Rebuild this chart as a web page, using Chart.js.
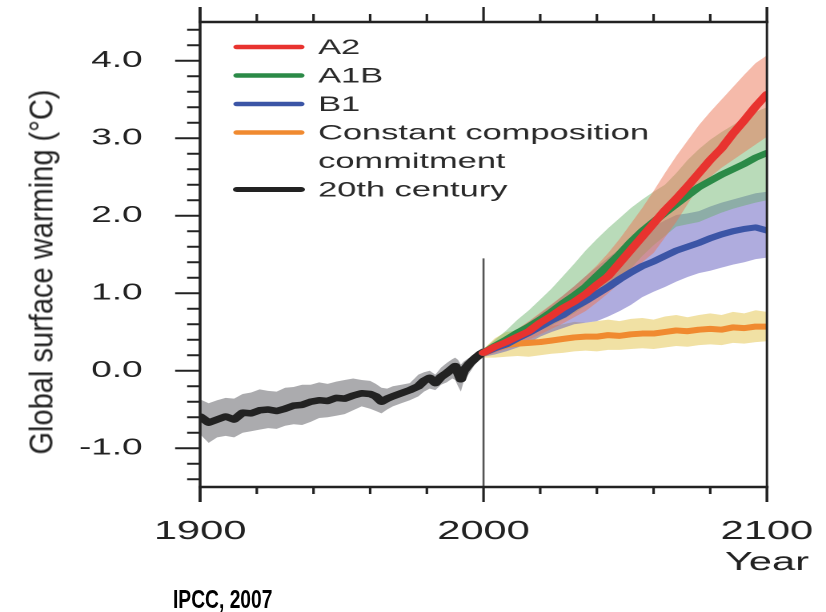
<!DOCTYPE html>
<html>
<head>
<meta charset="utf-8">
<script src="https://cdn.jsdelivr.net/npm/chart.js@4.4.1/dist/chart.umd.min.js"></script>
<style>
html,body{margin:0;padding:0;background:#fff;}
#wrap{position:relative;width:826px;height:612px;overflow:hidden;background:#fff;}
#ytitle{position:absolute;left:41px;top:272px;transform:translate(-50%,-50%) rotate(-90deg) scaleX(0.88);white-space:nowrap;font-family:'Liberation Sans',Arial,sans-serif;font-size:33px;line-height:1;color:#222;}
#credit{position:absolute;left:173px;top:586px;transform:scaleX(0.74);transform-origin:0 50%;font-family:'Liberation Sans',Arial,sans-serif;font-weight:bold;font-size:26px;line-height:26px;color:#000;white-space:nowrap;}
</style>
</head>
<body>
<div id="wrap">
<canvas id="c" width="516" height="612" style="width:826px;height:612px;"></canvas>
<div id="ytitle">Global surface warming (°C)</div>
<div id="credit">IPCC, 2007</div>
</div>
<script>
// ---------- DATA ----------
const histYears = [1900,1903,1906,1909,1912,1915,1918,1921,1924,1927,1930,1933,1936,1939,1942,1945,1948,1951,1954,1957,1960,1962,1964,1966,1968,1971,1974,1977,1979,1981,1983,1985,1987,1989,1990,1991,1992,1993,1995,1997,1999,2000];
const hist20th = [-0.59,-0.67,-0.63,-0.59,-0.63,-0.54,-0.55,-0.51,-0.50,-0.52,-0.49,-0.45,-0.44,-0.40,-0.38,-0.39,-0.35,-0.36,-0.32,-0.29,-0.30,-0.33,-0.40,-0.36,-0.33,-0.29,-0.25,-0.20,-0.13,-0.09,-0.16,-0.08,-0.03,0.03,0.06,-0.02,-0.11,0.00,0.09,0.16,0.22,0.24];
const hist20thHigh = [-0.37,-0.42,-0.38,-0.35,-0.36,-0.30,-0.28,-0.24,-0.26,-0.27,-0.22,-0.21,-0.18,-0.18,-0.15,-0.17,-0.14,-0.12,-0.10,-0.12,-0.13,-0.17,-0.22,-0.23,-0.20,-0.18,-0.16,-0.05,-0.02,0.00,-0.05,0.04,0.10,0.15,0.17,0.14,0.08,0.12,0.17,0.22,0.28,0.30];
const hist20thLow = [-0.82,-0.93,-0.86,-0.84,-0.86,-0.80,-0.78,-0.76,-0.74,-0.75,-0.71,-0.69,-0.70,-0.66,-0.61,-0.60,-0.58,-0.56,-0.51,-0.46,-0.49,-0.52,-0.55,-0.50,-0.46,-0.42,-0.38,-0.33,-0.27,-0.23,-0.25,-0.18,-0.15,-0.10,-0.12,-0.20,-0.27,-0.14,-0.03,0.08,0.15,0.17];

const projYears = [2000,2004,2008,2012,2016,2020,2024,2028,2032,2036,2040,2044,2048,2052,2056,2060,2064,2068,2072,2076,2080,2084,2088,2092,2096,2100];

const a2 = [0.23,0.31,0.37,0.44,0.51,0.62,0.71,0.81,0.89,0.99,1.11,1.22,1.39,1.56,1.73,1.90,2.07,2.22,2.38,2.55,2.72,2.87,3.06,3.23,3.41,3.57];
const a2High = [0.28,0.36,0.45,0.54,0.64,0.75,0.86,0.97,1.09,1.22,1.36,1.52,1.70,1.90,2.10,2.32,2.55,2.77,2.97,3.17,3.34,3.50,3.66,3.82,3.97,4.07];
const a2Low = [0.18,0.23,0.28,0.34,0.40,0.47,0.54,0.61,0.69,0.77,0.88,1.00,1.13,1.28,1.40,1.52,1.72,1.92,2.15,2.38,2.50,2.62,2.72,2.82,2.92,3.02];

const a1b = [0.23,0.32,0.40,0.49,0.57,0.66,0.76,0.87,0.97,1.08,1.22,1.36,1.50,1.66,1.80,1.92,2.04,2.15,2.26,2.37,2.45,2.53,2.60,2.67,2.75,2.81];
const a1bHigh = [0.28,0.40,0.52,0.66,0.78,0.92,1.06,1.22,1.38,1.55,1.70,1.84,1.97,2.10,2.21,2.31,2.40,2.55,2.72,2.86,2.98,3.08,3.17,3.26,3.34,3.40];
const a1bLow = [0.18,0.24,0.31,0.38,0.45,0.52,0.58,0.66,0.74,0.84,0.96,1.08,1.18,1.32,1.48,1.62,1.74,1.86,1.89,1.92,1.98,2.04,2.09,2.13,2.17,2.20];

const b1 = [0.23,0.29,0.34,0.42,0.49,0.57,0.65,0.72,0.82,0.90,0.99,1.08,1.18,1.27,1.35,1.41,1.48,1.55,1.60,1.65,1.71,1.76,1.80,1.83,1.85,1.81];
const b1High = [0.28,0.36,0.44,0.53,0.63,0.74,0.85,0.97,1.09,1.22,1.34,1.46,1.57,1.68,1.77,1.86,1.94,2.01,2.03,2.06,2.12,2.17,2.21,2.25,2.29,2.31];
const b1Low = [0.18,0.21,0.25,0.30,0.36,0.44,0.50,0.55,0.60,0.62,0.64,0.70,0.77,0.85,0.95,1.02,1.08,1.15,1.21,1.26,1.29,1.33,1.37,1.40,1.44,1.46];

const commit = [0.23,0.29,0.33,0.35,0.36,0.37,0.39,0.41,0.43,0.44,0.44,0.46,0.45,0.47,0.48,0.48,0.50,0.52,0.51,0.53,0.54,0.53,0.56,0.55,0.57,0.57];
const commitHigh = [0.28,0.42,0.50,0.52,0.55,0.56,0.58,0.60,0.63,0.62,0.64,0.66,0.64,0.67,0.68,0.66,0.70,0.72,0.69,0.72,0.74,0.72,0.76,0.74,0.78,0.76];
const commitLow = [0.17,0.17,0.18,0.19,0.18,0.20,0.22,0.23,0.25,0.26,0.25,0.27,0.27,0.28,0.29,0.28,0.30,0.32,0.31,0.33,0.34,0.33,0.36,0.35,0.37,0.38];

const seriesNames = ['A2','A1B','B1','Constant composition commitment','20th century'];
const legendLines = [['A2'],['A1B'],['B1'],['Constant composition','commitment'],['20th century']];

const xMajorTicks = [1900,2000,2100];
const xMinorTicks = [1920,1940,1960,1980,2020,2040,2060,2080];
const xTickLabels = {1900:'1900', 2000:'2000', 2100:['2100','Year']};
const yMajorTicks = [-1,0,1,2,3,4];
const yMinorTicks = [-1.4,-1.2,-0.8,-0.6,-0.4,-0.2,0.2,0.4,0.6,0.8,1.2,1.4,1.6,1.8,2.2,2.4,2.6,2.8,3.2,3.4,3.6,3.8,4.2,4.4];
const xRange = [1900, 2100];
const yRange = [-1.5, 4.5];
const dividerYear = 2000;
const dividerTop = 1.45;

// ---------- STYLE ----------
const FONT = "'Liberation Sans', Arial, Helvetica, sans-serif";
const lineColor = {a2:'#e8332f', a1b:'#2b8a47', b1:'#3b55a6', commit:'#f08a30', hist:'#222222'};
const bandColor = {a2:'rgba(236,118,86,0.5)', a1b:'rgba(100,175,100,0.45)', b1:'rgba(95,90,190,0.5)', commit:'rgba(230,200,90,0.55)', hist:'rgba(150,150,154,0.8)'};

const pts = (xs, ys) => xs.map((x, i) => ({x, y: ys[i]}));

function bandPair(name, xs, hi, lo, color, order) {
  return [
    {label: name + ' upper', data: pts(xs, hi), backgroundColor: color, borderColor: 'rgba(0,0,0,0)', borderWidth: 0, pointRadius: 0, fill: '+1', order, clip: 0},
    {label: name + ' lower', data: pts(xs, lo), backgroundColor: 'rgba(0,0,0,0)', borderColor: 'rgba(0,0,0,0)', borderWidth: 0, pointRadius: 0, fill: false, order, clip: 0}
  ];
}
function seriesLine(name, xs, ys, color, order, w) {
  return {label: name, data: pts(xs, ys), borderColor: color, backgroundColor: color, borderWidth: w, pointRadius: 0, fill: false, tension: 0, borderJoinStyle: 'round', borderCapStyle: 'round', order, clip: 0};
}

const datasets = [
  ...bandPair('20th century', histYears, hist20thHigh, hist20thLow, bandColor.hist, 20),
  ...bandPair('Commitment', projYears, commitHigh, commitLow, bandColor.commit, 19),
  ...bandPair('B1', projYears, b1High, b1Low, bandColor.b1, 18),
  ...bandPair('A1B', projYears, a1bHigh, a1bLow, bandColor.a1b, 17),
  ...bandPair('A2', projYears, a2High, a2Low, bandColor.a2, 16),
  {label: 'divider', data: [{x: dividerYear, y: yRange[0]}, {x: dividerYear, y: dividerTop}], borderColor: '#555', borderWidth: 1.3, pointRadius: 0, fill: false, order: 15, clip: 0},
  seriesLine(seriesNames[4], histYears, hist20th, lineColor.hist, 14, 6.5),
  seriesLine(seriesNames[3], projYears, commit, lineColor.commit, 13, 6),
  seriesLine(seriesNames[2], projYears, b1, lineColor.b1, 12, 6),
  seriesLine(seriesNames[1], projYears, a1b, lineColor.a1b, 11, 6),
  seriesLine(seriesNames[0], projYears, a2, lineColor.a2, 10, 6)
];

const legendColors = [lineColor.a2, lineColor.a1b, lineColor.b1, lineColor.commit, lineColor.hist];

// ---------- PLUGINS ----------
const framePlugin = {
  id: 'frame',
  afterDatasetsDraw(chart) {
    const {ctx, chartArea: {left, right, top, bottom}, scales: {x, y}} = chart;
    const seg = (x1, y1, x2, y2) => { ctx.beginPath(); ctx.moveTo(x1, y1); ctx.lineTo(x2, y2); ctx.stroke(); };
    ctx.save();
    ctx.strokeStyle = '#222';
    ctx.lineCap = 'butt';
    ctx.lineWidth = 2.4;
    seg(left - 1, bottom, right + 1, bottom);
    seg(left - 1, top, right + 1, top);
    ctx.lineWidth = 1.8;
    seg(left, top - 15, left, bottom + 15);
    ctx.lineWidth = 1.5;
    seg(right, top - 15, right, bottom + 15);
    ctx.lineWidth = 1.6;
    xMajorTicks.forEach(v => { const px = x.getPixelForValue(v); seg(px, top - 15, px, top); seg(px, bottom, px, bottom + 15); });
    xMinorTicks.forEach(v => { const px = x.getPixelForValue(v); seg(px, top - 8, px, top); seg(px, bottom, px, bottom + 7); });
    ctx.lineWidth = 2;
    yMajorTicks.forEach(v => { const py = y.getPixelForValue(v); seg(left - 15.6, py, left, py); });
    yMinorTicks.forEach(v => { const py = y.getPixelForValue(v); seg(left - 8.1, py, left, py); });
    ctx.restore();
  }
};

const legendPlugin = {
  id: 'insideLegend',
  afterDraw(chart) {
    const {ctx, chartArea: {left, top}} = chart;
    ctx.save();
    ctx.font = '21.5px ' + FONT;
    ctx.textBaseline = 'middle';
    ctx.textAlign = 'left';
    ctx.fillStyle = '#2a2a2a';
    ctx.lineCap = 'round';
    let row = 0;
    const pitch = 28.5;
    legendLines.forEach((lines, i) => {
      const yy = top + 25 + row * pitch;
      ctx.strokeStyle = legendColors[i];
      ctx.lineWidth = i === 4 ? 5 : 4.5;
      ctx.beginPath(); ctx.moveTo(left + 23, yy); ctx.lineTo(left + 63, yy); ctx.stroke();
      lines.forEach((t, k) => ctx.fillText(t, left + 73.7, yy + 1 + k * pitch));
      row += lines.length;
    });
    ctx.restore();
  }
};

// ---------- CHART ----------
new Chart(document.getElementById('c'), {
  type: 'line',
  data: {datasets},
  options: {
    responsive: false,
    animation: false,
    devicePixelRatio: 2,
    events: [],
    layout: {padding: {left: 0, right: 36.9, top: 22, bottom: 0}},
    plugins: {legend: {display: false}, tooltip: {enabled: false}},
    scales: {
      x: {
        type: 'linear', min: xRange[0], max: xRange[1],
        afterBuildTicks: s => { s.ticks = xMajorTicks.map(v => ({value: v})); },
        afterFit: s => { s.height = 125; s.paddingLeft = 0; s.paddingRight = 0; },
        grid: {display: false, drawTicks: false},
        border: {display: false},
        ticks: {autoSkip: false, maxRotation: 0, minRotation: 0, padding: 29, color: '#222',
          font: {family: FONT, size: 26},
          callback: v => xTickLabels[v] !== undefined ? xTickLabels[v] : ''}
      },
      y: {
        type: 'linear', min: yRange[0], max: yRange[1],
        afterBuildTicks: s => { s.ticks = yMajorTicks.map(v => ({value: v})); },
        afterFit: s => { s.width = 125; s.paddingTop = 0; s.paddingBottom = 0; },
        grid: {display: false, drawTicks: false},
        border: {display: false},
        ticks: {padding: 36, color: '#222', font: {family: FONT, size: 23},
          callback: v => Number(v).toFixed(1)}
      }
    }
  },
  plugins: [framePlugin, legendPlugin]
});
</script>
</body>
</html>
